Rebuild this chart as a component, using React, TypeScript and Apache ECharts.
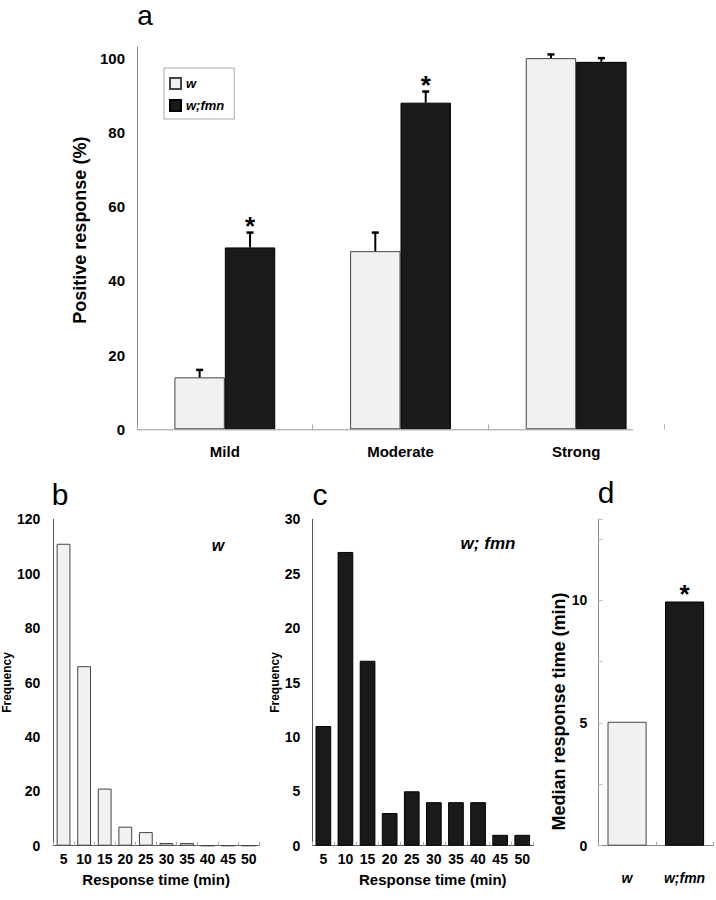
import React, { useEffect, useRef } from "react";
import * as echarts from "echarts";

// ---- data ----
const intensityCats = ["Mild", "Moderate", "Strong"];
const wResponse = [14, 48, 100];
const wResponseErrTop = [16, 53, 101];
const fmnResponse = [49, 88, 99];
const fmnResponseErrTop = [53, 91, 100];
const fmnSignificant = [true, true, false];

const timeCats = ["5", "10", "15", "20", "25", "30", "35", "40", "45", "50"];
const wFrequency = [111, 66, 21, 7, 5, 1, 1, 0, 0, 0];
const fmnFrequency = [11, 27, 17, 3, 5, 4, 4, 4, 1, 1];

const genotypes = ["w", "w;fmn"];
const medianTime = [5.05, 9.95];
const medianSignificant = [false, true];

const FONT = '"Liberation Sans", Arial, Helvetica, sans-serif';
const LIGHT = "#f1f1f1";
const DARK = "#1a1a1a";
const BAR_FRAC_A = 0.287;

function errorSeries(values: number[], tops: number[], sig: boolean[], sign: number) {
  return {
    type: "custom",
    xAxisIndex: 0,
    yAxisIndex: 0,
    z: 5,
    silent: true,
    data: values.map((v, i) => [i, v, tops[i], sig[i] ? 1 : 0]),
    renderItem: (params: any, api: any) => {
      const i = api.value(0);
      const base = api.coord([i, api.value(1)]);
      const top = api.coord([i, api.value(2)]);
      const band = api.size([1, 0])[0];
      const x = base[0] + (sign * band * BAR_FRAC_A) / 2;
      const children: any[] = [
        {
          type: "line",
          shape: { x1: x, y1: base[1], x2: x, y2: top[1] },
          style: { stroke: "#000", lineWidth: 2 },
        },
        {
          type: "line",
          shape: { x1: x - 3.5, y1: top[1], x2: x + 3.5, y2: top[1] },
          style: { stroke: "#000", lineWidth: 2.5 },
        },
      ];
      if (api.value(3)) {
        children.push({
          type: "text",
          style: {
            text: "*",
            x,
            y: top[1] - 7,
            align: "center",
            verticalAlign: "middle",
            fontSize: 26,
            fontWeight: "bold",
            fontFamily: FONT,
            fill: "#000",
          },
        });
      }
      return { type: "group", children };
    },
  };
}

export default function App() {
  const ref = useRef<HTMLDivElement>(null);

  useEffect(() => {
    if (!ref.current) return;
    const chart = echarts.init(ref.current, undefined, { renderer: "svg" });

    const tickLabel = (size: number) => ({
      fontFamily: FONT,
      fontWeight: "bold",
      fontSize: size,
      color: "#000",
    });

    const option: any = {
      animation: false,
      backgroundColor: "#fff",
      grid: [
        { left: 137, top: 47, width: 527, height: 382.3 },
        { left: 46.7, top: 519.3, width: 212.3, height: 326.4 },
        { left: 312.3, top: 519.3, width: 221, height: 326.4 },
        { left: 598.3, top: 519.3, width: 115, height: 326.4 },
      ],
      legend: {
        data: ["w", "w;fmn"],
        left: 164,
        top: 68,
        orient: "vertical",
        icon: "rect",
        itemWidth: 11,
        itemHeight: 11,
        itemGap: 9,
        padding: [9, 10, 7, 5],
        borderColor: "#aaa",
        borderWidth: 1,
        backgroundColor: "#fff",
        selectedMode: false,
        textStyle: {
          fontFamily: FONT,
          fontWeight: "bold",
          fontStyle: "italic",
          fontSize: 13,
          lineHeight: 13,
          color: "#000",
        },
      },
      xAxis: [
        {
          gridIndex: 0,
          type: "category",
          data: intensityCats,
          axisLine: { show: false },
          axisTick: { show: true, inside: true, length: 5, lineStyle: { color: "#aaa" } },
          axisLabel: { ...tickLabel(15), margin: 15 },
        },
        {
          gridIndex: 1,
          type: "category",
          data: timeCats,
          axisLine: { show: true, lineStyle: { color: "#555" } },
          axisTick: { show: true, inside: true, length: 4, lineStyle: { color: "#aaa" } },
          axisLabel: { ...tickLabel(14), margin: 6, interval: 0 },
          name: "Response time (min)",
          nameLocation: "middle",
          nameGap: 26,
          nameTextStyle: { ...tickLabel(15) },
        },
        {
          gridIndex: 2,
          type: "category",
          data: timeCats,
          axisLine: { show: true, lineStyle: { color: "#555" } },
          axisTick: { show: true, inside: true, length: 4, lineStyle: { color: "#aaa" } },
          axisLabel: { ...tickLabel(14), margin: 6, interval: 0 },
          name: "Response time (min)",
          nameLocation: "middle",
          nameGap: 26,
          nameTextStyle: { ...tickLabel(15), padding: [0, 0, 0, 20] },
        },
        {
          gridIndex: 3,
          type: "category",
          data: genotypes,
          axisLine: { show: true, lineStyle: { color: "#888" } },
          axisTick: { show: true, inside: true, length: 4, lineStyle: { color: "#aaa" } },
          axisLabel: { ...tickLabel(14), fontStyle: "italic", margin: 25 },
        },
      ],
      yAxis: [
        {
          gridIndex: 0,
          type: "value",
          min: 0,
          max: 103,
          interval: 20,
          axisLine: { show: true, lineStyle: { color: "#888" } },
          axisTick: { show: false },
          splitLine: { show: false },
          axisLabel: {
            ...tickLabel(15),
            margin: 12,
            formatter: (v: number) => (v % 20 === 0 ? String(v) : ""),
          },
          name: "Positive response (%)",
          nameLocation: "middle",
          nameGap: 45,
          nameTextStyle: { ...tickLabel(18), padding: [0, 0, 0, 16] },
        },
        {
          gridIndex: 1,
          type: "value",
          min: 0,
          max: 120,
          interval: 20,
          axisLine: { show: true, lineStyle: { color: "#555" } },
          axisTick: { show: false },
          splitLine: { show: false },
          axisLabel: { ...tickLabel(14), margin: 13 },
          name: "Frequency",
          nameLocation: "middle",
          nameGap: 32,
          nameTextStyle: { ...tickLabel(12) },
        },
        {
          gridIndex: 2,
          type: "value",
          min: 0,
          max: 30,
          interval: 5,
          axisLine: { show: true, lineStyle: { color: "#555" } },
          axisTick: { show: false },
          splitLine: { show: false },
          axisLabel: { ...tickLabel(14), margin: 12 },
          name: "Frequency",
          nameLocation: "middle",
          nameGap: 29,
          nameTextStyle: { ...tickLabel(12) },
        },
        {
          gridIndex: 3,
          type: "value",
          min: 0,
          max: 13.3,
          interval: 2.5,
          axisLine: { show: true, lineStyle: { color: "#888" } },
          axisTick: { show: true, inside: true, length: 4, lineStyle: { color: "#bbb" } },
          splitLine: { show: false },
          axisLabel: {
            ...tickLabel(14),
            margin: 11,
            formatter: (v: number) => (v % 5 === 0 ? String(v) : ""),
          },
          name: "Median response time (min)",
          nameLocation: "middle",
          nameGap: 25,
          nameTextStyle: { ...tickLabel(18), padding: [0, 58, 0, 0] },
        },
      ],
      series: [
        {
          name: "w",
          type: "bar",
          xAxisIndex: 0,
          yAxisIndex: 0,
          data: wResponse,
          barWidth: "28.7%",
          barGap: "0%",
          itemStyle: { color: LIGHT, borderColor: "#444", borderWidth: 1 },
        },
        {
          name: "w;fmn",
          type: "bar",
          xAxisIndex: 0,
          yAxisIndex: 0,
          data: fmnResponse,
          barWidth: "28.7%",
          barGap: "0%",
          itemStyle: { color: DARK, borderColor: "#000", borderWidth: 1 },
        },
        errorSeries(wResponse, wResponseErrTop, [false, false, false], -1),
        errorSeries(fmnResponse, fmnResponseErrTop, fmnSignificant, 1),
        {
          name: "w frequency",
          type: "bar",
          xAxisIndex: 1,
          yAxisIndex: 1,
          data: wFrequency,
          barWidth: "67%",
          itemStyle: { color: LIGHT, borderColor: "#444", borderWidth: 1 },
        },
        {
          name: "w;fmn frequency",
          type: "bar",
          xAxisIndex: 2,
          yAxisIndex: 2,
          data: fmnFrequency,
          barWidth: "71%",
          itemStyle: { color: DARK, borderColor: "#000", borderWidth: 1 },
        },
        {
          name: "median",
          type: "bar",
          xAxisIndex: 3,
          yAxisIndex: 3,
          barWidth: "68%",
          data: medianTime.map((v, i) => ({
            value: v,
            itemStyle:
              i === 0
                ? { color: LIGHT, borderColor: "#444", borderWidth: 1 }
                : { color: DARK, borderColor: "#000", borderWidth: 1 },
          })),
        },
        {
          type: "custom",
          xAxisIndex: 3,
          yAxisIndex: 3,
          z: 5,
          silent: true,
          data: medianTime.map((v, i) => [i, v, medianSignificant[i] ? 1 : 0]),
          renderItem: (params: any, api: any) => {
            if (!api.value(2)) return { type: "group", children: [] };
            const p = api.coord([api.value(0), api.value(1)]);
            return {
              type: "text",
              style: {
                text: "*",
                x: p[0],
                y: p[1] - 8,
                align: "center",
                verticalAlign: "middle",
                fontSize: 26,
                fontWeight: "bold",
                fontFamily: FONT,
                fill: "#000",
              },
            };
          },
        },
      ],
      graphic: [
        {
          type: "line",
          shape: { x1: 137, y1: 429.8, x2: 633, y2: 429.8 },
          style: { stroke: "#999", lineWidth: 1 },
          z: 10,
        },
        { type: "text", x: 145, y: 15, style: { text: "a", fontSize: 28, fontFamily: FONT, fill: "#000", align: "center", verticalAlign: "middle" } },
        { type: "text", x: 60, y: 494.5, style: { text: "b", fontSize: 30, fontFamily: FONT, fill: "#000", align: "center", verticalAlign: "middle" } },
        { type: "text", x: 320, y: 494.5, style: { text: "c", fontSize: 30, fontFamily: FONT, fill: "#000", align: "center", verticalAlign: "middle" } },
        { type: "text", x: 606, y: 492.5, style: { text: "d", fontSize: 30, fontFamily: FONT, fill: "#000", align: "center", verticalAlign: "middle" } },
        { type: "text", x: 218, y: 545, style: { text: "w", fontSize: 16, fontWeight: "bold", fontStyle: "italic", fontFamily: FONT, fill: "#000", align: "center", verticalAlign: "middle" } },
        { type: "text", x: 488, y: 543, style: { text: "w; fmn", fontSize: 17, fontWeight: "bold", fontStyle: "italic", fontFamily: FONT, fill: "#000", align: "center", verticalAlign: "middle" } },
      ],
    };

    chart.setOption(option);
    return () => chart.dispose();
  }, []);

  return (
    <div
      ref={ref}
      style={{ position: "absolute", left: 0, top: 0, width: 716, height: 900, background: "#fff" }}
    />
  );
}
